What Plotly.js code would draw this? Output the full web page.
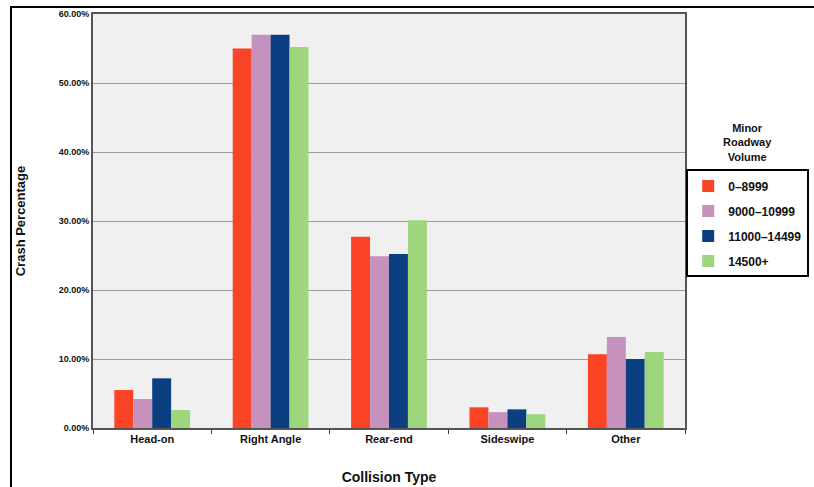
<!DOCTYPE html>
<html>
<head>
<meta charset="utf-8">
<script src="https://cdn.plot.ly/plotly-3.0.1.min.js"></script>
<style>
html,body{margin:0;padding:0;background:#fff;}
#frame{position:absolute;left:10px;top:6px;width:820px;height:500px;border-left:2px solid #000;border-top:2px solid #000;pointer-events:none;z-index:10;}
#chart{width:814px;height:487px;}
</style>
</head>
<body>
<div id="frame"></div>
<div id="chart"></div>
<script>
var categories = ["Head-on", "Right Angle", "Rear-end", "Sideswipe", "Other"];
var seriesNames = ["0\u20138999", "9000\u201310999", "11000\u201314499", "14500+"];
var vol0_8999 = [5.5, 55.0, 27.7, 3.0, 10.7];
var vol9000_10999 = [4.2, 57.0, 24.9, 2.3, 13.2];
var vol11000_14499 = [7.2, 57.0, 25.2, 2.7, 10.0];
var vol14500plus = [2.6, 55.2, 30.1, 2.0, 11.0];
var yTicks = [0, 10, 20, 30, 40, 50, 60];
var yTickText = yTicks.map(function(t){ return t.toFixed(2) + "%"; });

var colors = ["#FB4326", "#C692BD", "#0B3F82", "#9DD67C"];
var seriesValues = [vol0_8999, vol9000_10999, vol11000_14499, vol14500plus];
var font = "'Liberation Sans', Arial, sans-serif";

var traces = seriesValues.map(function(v, i){
  return {
    type: "bar", x: categories, y: v, name: seriesNames[i],
    marker: {color: colors[i], line: {width: 0}},
    legendgroup: "g" + i
  };
});

var layout = {
  width: 814, height: 487,
  margin: {l: 93, r: 129, t: 14, b: 59, autoexpand: false},
  paper_bgcolor: "#ffffff",
  plot_bgcolor: "#f0f0f0",
  barmode: "group",
  bargap: 0.36,
  bargroupgap: 0,
  font: {family: font, color: "#111", size: 11},
  xaxis: {
    range: [-0.5, 4.5],
    showline: true, linecolor: "#555", linewidth: 2, mirror: true,
    ticks: "outside", tickson: "boundaries", ticklen: 4, tickcolor: "#333",
    tickfont: {family: font, size: 11, color: "#111", weight: "bold"},
    title: {text: "Collision Type", font: {family: font, size: 14, color: "#111", weight: "bold"}, standoff: 28}
  },
  yaxis: {
    range: [0, 60],
    tickvals: yTicks, ticktext: yTickText, tickmode: "array",
    showgrid: true, gridcolor: "#9c9c9c", gridwidth: 1,
    showline: true, linecolor: "#555", linewidth: 2, mirror: true,
    zeroline: false, ticks: "",
    tickfont: {family: font, size: 9, color: "#111", weight: "bold"},
    title: {text: "Crash Percentage", font: {family: font, size: 13, color: "#111", weight: "bold"}, standoff: 30}
  },
  showlegend: true,
  legend: {
    xref: "container", yref: "container",
    x: 0.843, xanchor: "left", y: 0.652, yanchor: "top",
    bordercolor: "#000", borderwidth: 2, bgcolor: "#fff",
    font: {family: font, size: 12, color: "#111", weight: "bold"},
    traceorder: "grouped", tracegroupgap: 6,
    itemwidth: 30
  },
  annotations: [{
    text: "Minor<br>Roadway<br>Volume", xref: "paper", yref: "paper",
    x: 1.106, y: 0.745, xanchor: "center", yanchor: "top", showarrow: false,
    font: {family: font, size: 11, color: "#111", weight: "bold"}
  }]
};

Plotly.newPlot("chart", traces, layout, {displayModeBar: false, staticPlot: true});
</script>
</body>
</html>
